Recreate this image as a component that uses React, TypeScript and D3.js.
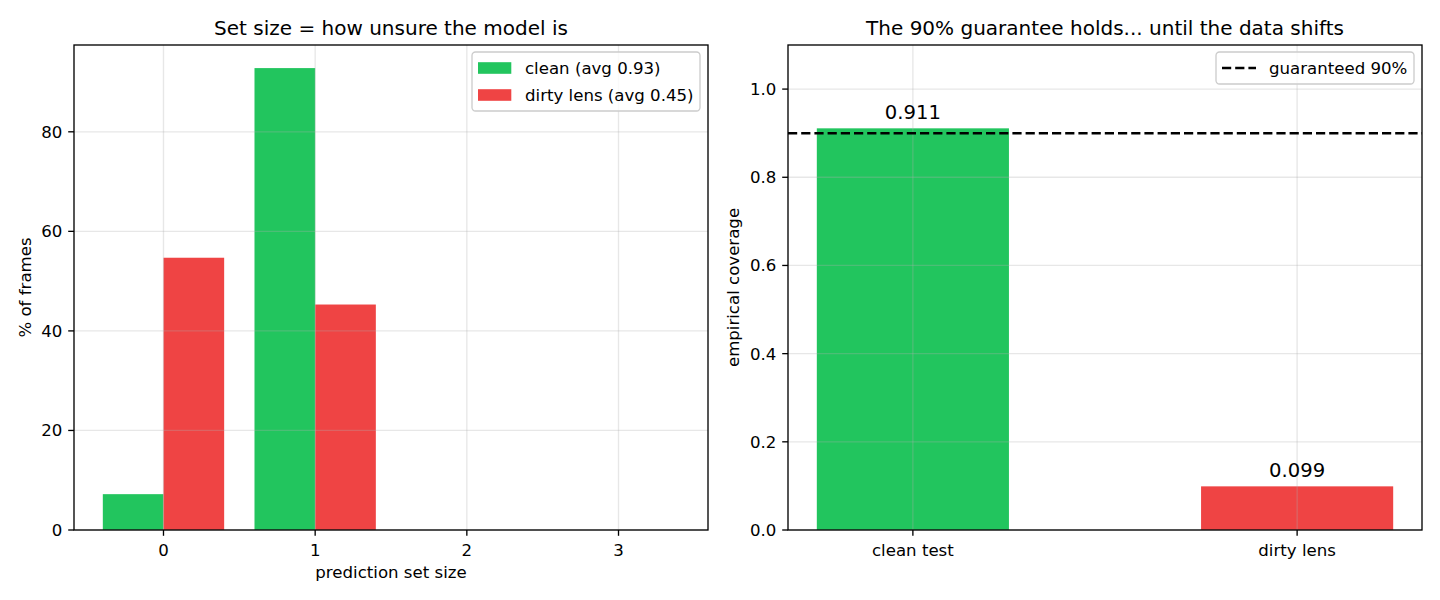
import { useEffect, useRef } from "react";
import * as d3 from "d3";

// left panel: distribution of prediction set sizes (% of frames)
const setSizes = [0, 1, 2, 3];
const cleanPct = [7.2, 92.8, 0, 0];
const dirtyPct = [54.7, 45.3, 0, 0];
const seriesNames = ["clean (avg 0.93)", "dirty lens (avg 0.45)"];
const leftTicks = [0, 20, 40, 60, 80];

// right panel: empirical coverage
const coverageLabels = ["clean test", "dirty lens"];
const coverageValues = [0.911, 0.099];
const coverageText = ["0.911", "0.099"];
const guarantee = 0.9;
const rightTicks = [0.0, 0.2, 0.4, 0.6, 0.8, 1.0];

const GREEN = "#22c55e";
const RED = "#ef4444";
const FONT = "DejaVu Sans, sans-serif";
const FS = 16.6;
const W = 1440;
const H = 600;
const top = 45;
const bottom = 530;
const tickLen = 5.8;
const tickPad = 5.8;

function drawFrame(
  g: d3.Selection<SVGGElement, unknown, null, undefined>,
  x0: number,
  x1: number,
) {
  g.append("rect")
    .attr("x", x0)
    .attr("y", top)
    .attr("width", x1 - x0)
    .attr("height", bottom - top)
    .attr("fill", "none")
    .attr("stroke", "#000")
    .attr("stroke-width", 1.33);
}

export default function App() {
  const ref = useRef<SVGSVGElement>(null);

  useEffect(() => {
    const svg = d3.select(ref.current!);
    svg.selectAll("*").remove();
    svg.append("rect").attr("width", W).attr("height", H).attr("fill", "#fff");

    // ---------- left panel ----------
    const lx0 = 74;
    const lx1 = 708;
    const xL = d3.scaleLinear().domain([-0.59, 3.59]).range([lx0, lx1]);
    const yL = d3
      .scaleLinear()
      .domain([0, d3.max(cleanPct.concat(dirtyPct))! * 1.05])
      .range([bottom, top]);
    const left = svg.append("g");
    const bw = 0.4;

    left
      .selectAll("rect.clean")
      .data(setSizes)
      .join("rect")
      .attr("class", "clean")
      .attr("x", (d) => xL(d - bw))
      .attr("width", xL(bw) - xL(0))
      .attr("y", (_, i) => yL(cleanPct[i]))
      .attr("height", (_, i) => yL(0) - yL(cleanPct[i]))
      .attr("fill", GREEN);
    left
      .selectAll("rect.dirty")
      .data(setSizes)
      .join("rect")
      .attr("class", "dirty")
      .attr("x", (d) => xL(d))
      .attr("width", xL(bw) - xL(0))
      .attr("y", (_, i) => yL(dirtyPct[i]))
      .attr("height", (_, i) => yL(0) - yL(dirtyPct[i]))
      .attr("fill", RED);

    // grid above bars
    const gridL = left.append("g").attr("stroke", "#b0b0b0").attr("stroke-opacity", 0.3).attr("stroke-width", 1.33);
    leftTicks.forEach((t) => {
      gridL.append("line").attr("x1", lx0).attr("x2", lx1).attr("y1", yL(t)).attr("y2", yL(t));
    });
    setSizes.forEach((t) => {
      gridL.append("line").attr("x1", xL(t)).attr("x2", xL(t)).attr("y1", top).attr("y2", bottom);
    });

    drawFrame(left, lx0, lx1);

    leftTicks.forEach((t) => {
      left.append("line").attr("x1", lx0 - tickLen).attr("x2", lx0).attr("y1", yL(t)).attr("y2", yL(t)).attr("stroke", "#000").attr("stroke-width", 1.33);
      left.append("text").attr("x", lx0 - tickLen - tickPad).attr("y", yL(t)).attr("dy", "0.36em").attr("text-anchor", "end").text(String(t));
    });
    setSizes.forEach((t) => {
      left.append("line").attr("x1", xL(t)).attr("x2", xL(t)).attr("y1", bottom).attr("y2", bottom + tickLen).attr("stroke", "#000").attr("stroke-width", 1.33);
      left.append("text").attr("x", xL(t)).attr("y", 556).attr("text-anchor", "middle").text(String(t));
    });
    left.append("text").attr("x", (lx0 + lx1) / 2).attr("y", 578).attr("text-anchor", "middle").text("prediction set size");
    left.append("text").attr("transform", `translate(31,${(top + bottom) / 2}) rotate(-90)`).attr("text-anchor", "middle").text("% of frames");
    left.append("text").attr("x", (lx0 + lx1) / 2).attr("y", 35).attr("text-anchor", "middle").attr("font-size", 20).text("Set size = how unsure the model is");

    // legend
    const legL = left.append("g");
    legL.append("rect").attr("x", 472).attr("y", 52).attr("width", 228).attr("height", 59).attr("rx", 3.5).attr("fill", "#fff").attr("fill-opacity", 0.8).attr("stroke", "#cccccc").attr("stroke-width", 1.33);
    [GREEN, RED].forEach((c, i) => {
      const cy = 68 + i * 27;
      legL.append("rect").attr("x", 478).attr("y", cy - 5.8).attr("width", 33.3).attr("height", 11.6).attr("fill", c);
      legL.append("text").attr("x", 525).attr("y", cy).attr("dy", "0.36em").text(seriesNames[i]);
    });

    // ---------- right panel ----------
    const rx0 = 788;
    const rx1 = 1422;
    const xR = d3.scaleLinear().domain([-0.325, 1.325]).range([rx0, rx1]);
    const yR = d3.scaleLinear().domain([0, 1.1]).range([bottom, top]);
    const right = svg.append("g");
    const cw = 0.5;
    right
      .selectAll("rect.cov")
      .data(coverageValues)
      .join("rect")
      .attr("class", "cov")
      .attr("x", (_, i) => xR(i - cw / 2))
      .attr("width", xR(cw) - xR(0))
      .attr("y", (d) => yR(d))
      .attr("height", (d) => yR(0) - yR(d))
      .attr("fill", (_, i) => (i === 0 ? GREEN : RED));

    const gridR = right.append("g").attr("stroke", "#b0b0b0").attr("stroke-opacity", 0.3).attr("stroke-width", 1.33);
    rightTicks.forEach((t) => {
      gridR.append("line").attr("x1", rx0).attr("x2", rx1).attr("y1", yR(t)).attr("y2", yR(t));
    });
    coverageLabels.forEach((_, i) => {
      gridR.append("line").attr("x1", xR(i)).attr("x2", xR(i)).attr("y1", top).attr("y2", bottom);
    });

    right.append("line").attr("x1", rx0).attr("x2", rx1).attr("y1", yR(guarantee)).attr("y2", yR(guarantee)).attr("stroke", "#000").attr("stroke-width", 2.5).attr("stroke-dasharray", "9.2 4");

    right
      .selectAll("text.val")
      .data(coverageValues)
      .join("text")
      .attr("class", "val")
      .attr("x", (_, i) => xR(i))
      .attr("y", (d) => yR(d) - 9)
      .attr("text-anchor", "middle")
      .attr("font-size", 19.6)
      .text((_, i) => coverageText[i]);

    drawFrame(right, rx0, rx1);

    rightTicks.forEach((t) => {
      right.append("line").attr("x1", rx0 - tickLen).attr("x2", rx0).attr("y1", yR(t)).attr("y2", yR(t)).attr("stroke", "#000").attr("stroke-width", 1.33);
      right.append("text").attr("x", rx0 - tickLen - tickPad).attr("y", yR(t)).attr("dy", "0.36em").attr("text-anchor", "end").text(t.toFixed(1));
    });
    coverageLabels.forEach((l, i) => {
      right.append("line").attr("x1", xR(i)).attr("x2", xR(i)).attr("y1", bottom).attr("y2", bottom + tickLen).attr("stroke", "#000").attr("stroke-width", 1.33);
      right.append("text").attr("x", xR(i)).attr("y", 556).attr("text-anchor", "middle").text(l);
    });
    right.append("text").attr("transform", `translate(739,${(top + bottom) / 2}) rotate(-90)`).attr("text-anchor", "middle").text("empirical coverage");
    right.append("text").attr("x", (rx0 + rx1) / 2).attr("y", 35).attr("text-anchor", "middle").attr("font-size", 20).text("The 90% guarantee holds... until the data shifts");

    const legR = right.append("g");
    legR.append("rect").attr("x", 1216).attr("y", 52).attr("width", 198).attr("height", 32).attr("rx", 3.5).attr("fill", "#fff").attr("fill-opacity", 0.8).attr("stroke", "#cccccc").attr("stroke-width", 1.33);
    legR.append("line").attr("x1", 1222).attr("x2", 1256).attr("y1", 68).attr("y2", 68).attr("stroke", "#000").attr("stroke-width", 2.5).attr("stroke-dasharray", "9.2 4");
    legR.append("text").attr("x", 1269).attr("y", 68).attr("dy", "0.36em").text("guaranteed 90%");
  }, []);

  return (
    <svg
      ref={ref}
      width={W}
      height={H}
      fontFamily={FONT}
      fontSize={FS}
      fill="#000"
      style={{ position: "absolute", left: 0, top: 0 }}
    />
  );
}
